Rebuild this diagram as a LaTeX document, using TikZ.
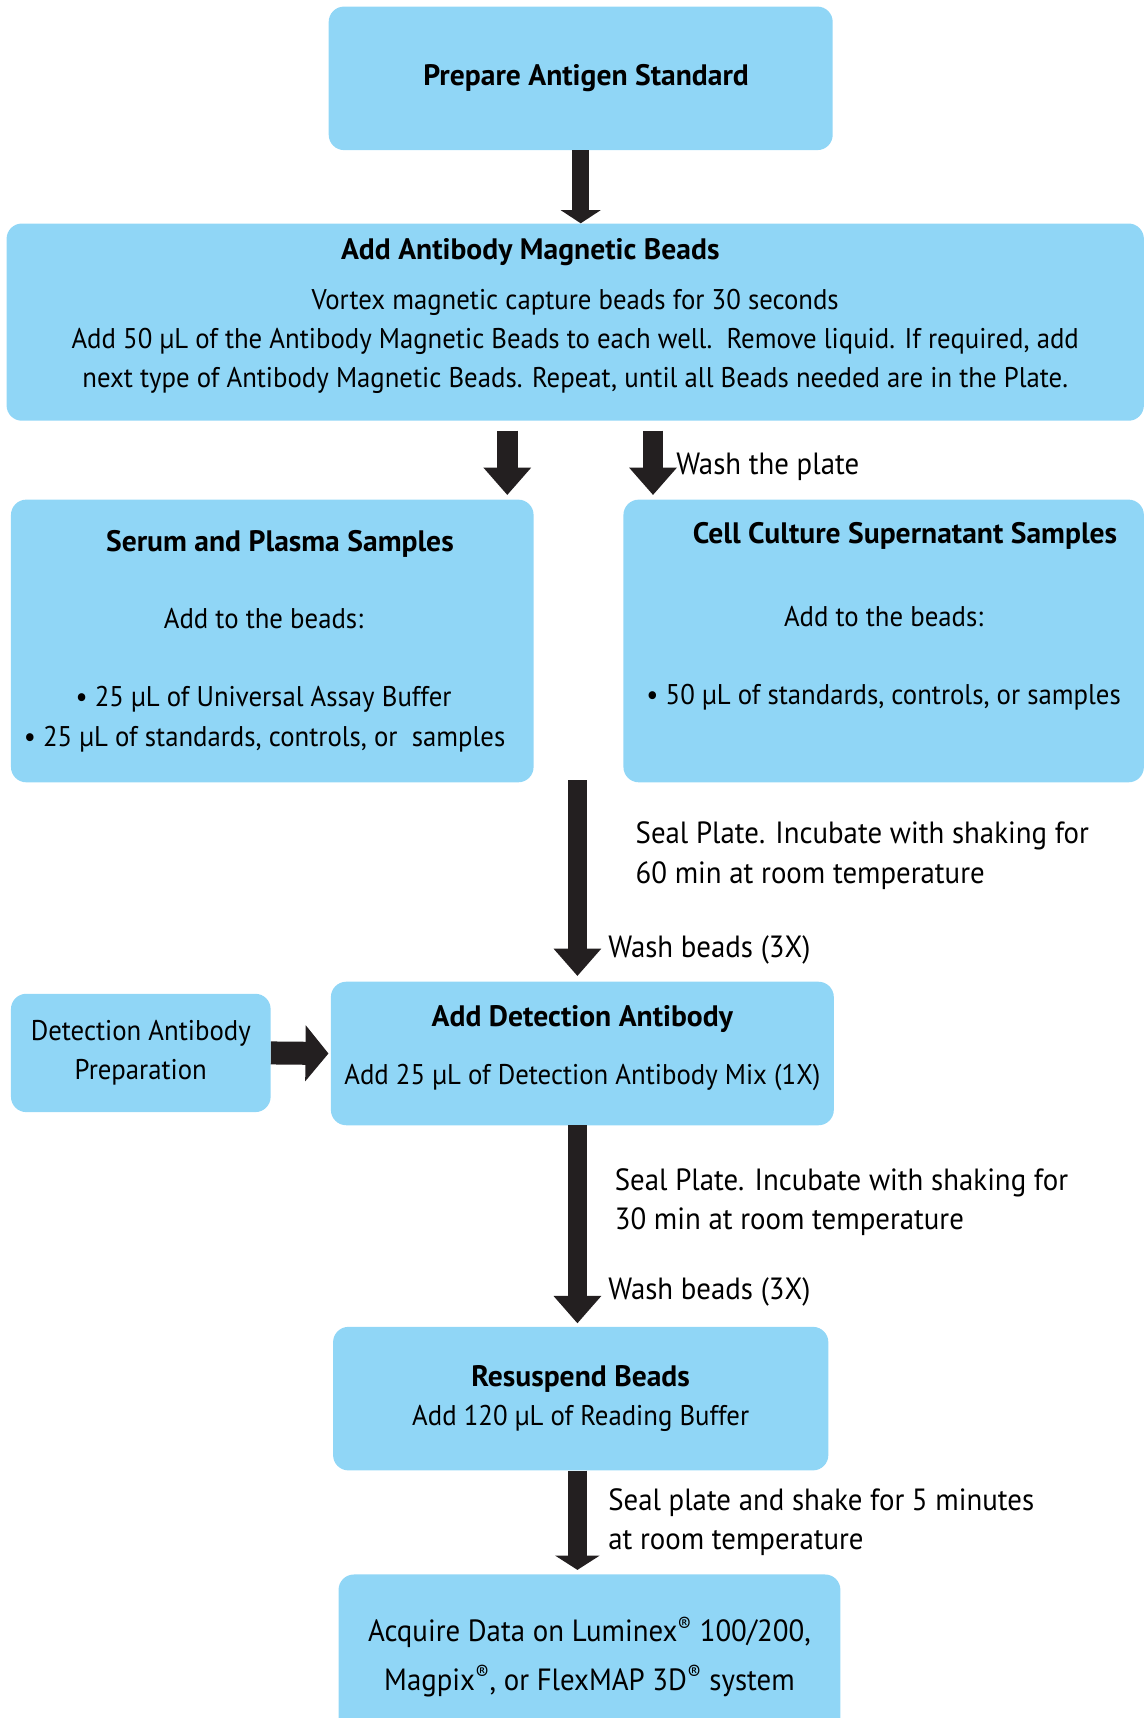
\documentclass[tikz,border=0pt]{standalone}
\usepackage{fontspec}
\setmainfont[FakeStretch=0.94, BoldFeatures={FakeStretch=1.0}]{PT Sans}
\usetikzlibrary{arrows.meta}
\definecolor{boxblue}{RGB}{144,214,246}
\definecolor{arrowdark}{RGB}{35,31,32}
\newcommand{\boxtitle}[1]{{\fontsize{27}{36}\selectfont\bfseries #1}}

\begin{document}
\begin{tikzpicture}[x=1pt, y=-1pt,
    stepbox/.style={rectangle, fill=boxblue, rounded corners=14pt, align=center, inner sep=0pt, font=\fontsize{26}{36}\selectfont},
    flowarrow/.style={draw=arrowdark, line width=17pt, -{Triangle[width=42pt,length=25pt]}},
    note/.style={anchor=west, align=left, inner sep=0pt, font=\fontsize{28}{36}\selectfont}]
    \clip (0,0) rectangle (1046,1568);
    \useasboundingbox (0,0) rectangle (1046,1568);

    \node at (530,71.5) [stepbox, minimum width=460pt, minimum height=131pt] (antigen) {\hspace*{10pt}\boxtitle{Prepare Antigen Standard}};
    \node at (525,294) [stepbox, minimum width=1038pt, minimum height=180pt] (beads) {\boxtitle{Add Antibody Magnetic Beads}\hspace*{82pt}\\[9pt]
        Vortex magnetic capture beads for 30 seconds\\
        Add 50 µL of the Antibody Magnetic Beads to each well.\ \ Remove liquid. If required, add\\
        next type of Antibody Magnetic Beads. Repeat, until all Beads needed are in the Plate.\\[-20pt]\mbox{}};
    \node at (248.5,585) [stepbox, minimum width=477pt, minimum height=258pt] (serum) {\hspace*{14pt}\boxtitle{Serum and Plasma Samples}\\[35pt]
        \hspace*{-16pt}Add to the beads:\\[35pt]
        \hspace*{-16pt}• 25 µL of Universal Assay Buffer\\
        • 25 µL of standards, controls, or\ \ samples\hspace*{14pt}};
    \node at (806.5,585) [stepbox, minimum width=475pt, minimum height=258pt] (cell) {\hspace*{39pt}\boxtitle{Cell Culture Supernatant Samples}\\[40pt]
        Add to the beads:\\[35pt]
        • 50 µL of standards, controls, or samples\\[15pt]\mbox{}};
    \node at (128.5,961) [stepbox, minimum width=237pt, minimum height=108pt] (detprep) {Detection Antibody\\ Preparation};
    \node at (531.5,961.5) [stepbox, minimum width=459pt, minimum height=131pt] (detect) {\boxtitle{Add Detection Antibody}\\[17pt]
        Add 25 µL of Detection Antibody Mix (1X)\\[-20pt]\mbox{}};
    \node at (530,1276.5) [stepbox, minimum width=452pt, minimum height=131pt] (resusp) {\boxtitle{Resuspend Beads}\\
        Add 120 µL of Reading Buffer};
    \node at (538,1512) [stepbox, minimum width=458pt, minimum height=150pt, font=\fontsize{28}{44}\selectfont] (acquire) {Acquire Data on Luminex\textsuperscript{®} 100/200,\\
        Magpix\textsuperscript{®}, or FlexMAP 3D\textsuperscript{®} system};

    \coordinate (splitL) at (463,393);
    \coordinate (splitR) at (596,393);
    \coordinate (join) at (527,712);

    \draw[flowarrow, line width=15pt, -{Triangle[width=36pt,length=12pt]}] (antigen.south) -- (antigen.south |- beads.north);
    \draw[flowarrow, line width=19pt, shorten >=4pt] (splitL) -- (splitL |- serum.north);
    \draw[flowarrow, line width=19pt, shorten >=4pt] (splitR) -- (splitR |- cell.north);
    \draw[flowarrow] (join) -- ([yshift=5pt]join |- detect.north);
    \draw[flowarrow, line width=21pt, -{Triangle[width=50pt,length=21pt]}] (detprep.east) -- ([xshift=-2pt]detect.west);
    \draw[flowarrow, shorten >=3pt] (detect.south -| join) -- (resusp.north -| join);
    \draw[flowarrow, -{Triangle[width=40pt,length=13pt]}, shorten >=4pt] (resusp.south -| join) -- (acquire.north -| join);

    \node at (617,426) [note] (wash) {Wash the plate};
    \node at (580,781) [note] (incub1) {Seal Plate. Incubate with shaking for\\ 60 min at room temperature};
    \node at (555,867) [note] (wash1) {Wash beads (3X)};
    \node at (561,1097) [note] (incub2) {Seal Plate. Incubate with shaking for\\ 30 min at room temperature};
    \node at (555,1179) [note] (wash2) {Wash beads (3X)};
    \node at (555,1389) [note] (shake) {Seal plate and shake for 5 minutes\\ at room temperature};
\end{tikzpicture}
\end{document}
